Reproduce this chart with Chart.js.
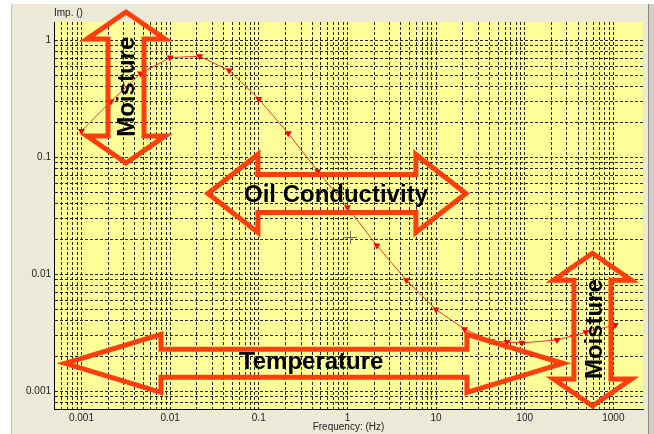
<!DOCTYPE html>
<html>
<head>
<meta charset="utf-8">
<script src="https://cdn.jsdelivr.net/npm/chart.js@4.4.1/dist/chart.umd.min.js"></script>
<style>
  html, body { margin: 0; padding: 0; background: #fff; }
  #wrap { width: 654px; height: 434px; }
</style>
</head>
<body>
<div id="wrap"><canvas id="chart" width="654" height="434"></canvas></div>
<script>
const freqHz = [0.001, 0.00215, 0.00464, 0.01, 0.0215, 0.0464, 0.1, 0.215, 0.464, 1, 2.15, 4.64, 10, 21, 42, 63, 93, 231, 490, 1050];
const impedance = [0.168, 0.30, 0.52, 0.71, 0.73, 0.55, 0.315, 0.16, 0.076, 0.0375, 0.0176, 0.0089, 0.0050, 0.0034, 0.0027, 0.00264, 0.0026, 0.00275, 0.0032, 0.0037];

const xTickLabels = ['0.001', '0.01', '0.1', '1', '10', '100', '1000'];
const yTickLabels = ['0.001', '0.01', '0.1', '1'];
const minorSteps = [1, 2, 3, 4, 5, 6, 7, 8, 9];

const xRange = [0.00049, 2160];
const yRange = [0.000708, 1.43];

// big annotation arrows, ends given in (Hz, impedance)
const arrows = [
  { text: 'Moisture', from: [0.00318, 1.74], to: [0.00318, 0.0894], shaftHalf: 18, headHalf: 39, headLen: 27, label: [0.0033, 0.40], vertical: true },
  { text: 'Oil Conductivity', from: [0.0267, 0.0491], to: [21.7, 0.0491], shaftHalf: 19, headHalf: 39, headLen: 50, label: [0.743, 0.0476], vertical: false },
  { text: 'Temperature', from: [0.000652, 0.00174], to: [270, 0.00174], shaftHalf: 14, headHalf: 29, headLen: 96, label: [0.395, 0.00178], vertical: false },
  { text: 'Moisture', from: [581, 0.01514], to: [581, 0.000751], shaftHalf: 18.5, headHalf: 39, headLen: 27, label: [628, 0.00341], vertical: true },
];
const cursorAt = [1.07, 0.021];

const tickFont = { family: "'Liberation Sans Narrow', 'Liberation Sans', Arial, sans-serif", size: 10 };
const arrowColor = '#ff3d0d';

// every 1..9 step per decade, capped at the last labelled decade
function gridTicks(labels, range) {
  const top = Number(labels[labels.length - 1]);
  const out = [];
  for (let e = -4; e <= 3; e++) {
    minorSteps.forEach(m => {
      const v = m * Math.pow(10, e);
      if (v >= range[0] && v <= top * 1.0001) out.push({ value: v });
    });
  }
  return out;
}

function labelFor(labels) {
  return function (value) {
    const hit = labels.find(l => Math.abs(Number(l) - value) < Number(l) * 1e-6);
    return hit || '';
  };
}

const backdrop = {
  id: 'backdrop',
  beforeDraw(chart) {
    const { ctx, chartArea: a } = chart;
    ctx.save();
    ctx.fillStyle = '#ffffff';
    ctx.fillRect(0, 0, 654, 434);
    ctx.fillStyle = '#ece9d8';
    ctx.fillRect(11, 4, 637, 430);
    ctx.fillStyle = '#d4d0c8';
    ctx.fillRect(648, 4, 6, 430);
    ctx.strokeStyle = '#8c8a80';
    ctx.lineWidth = 1;
    ctx.beginPath();
    ctx.moveTo(648.5, 4); ctx.lineTo(648.5, 434);
    ctx.stroke();
    ctx.strokeStyle = '#c8c5b8';
    ctx.beginPath();
    ctx.moveTo(11.5, 4); ctx.lineTo(11.5, 434);
    ctx.stroke();
    ctx.fillStyle = '#ffff99';
    ctx.fillRect(a.left, a.top, a.right - a.left, a.bottom - a.top);
    ctx.restore();
  }
};

const overlay = {
  id: 'overlay',
  afterDraw(chart) {
    const { ctx, chartArea: a } = chart;
    const sx = chart.scales.x, sy = chart.scales.y;
    ctx.save();

    // y axis caption
    ctx.fillStyle = '#222';
    ctx.font = "10px 'Liberation Sans Narrow', 'Liberation Sans', Arial";
    ctx.textAlign = 'left';
    ctx.textBaseline = 'middle';
    ctx.fillText('Imp. ()', a.left, 13);

    // cursor cross
    const cx = sx.getPixelForValue(cursorAt[0]), cy = sy.getPixelForValue(cursorAt[1]);
    ctx.strokeStyle = '#5c6b8a';
    ctx.lineWidth = 1;
    ctx.beginPath();
    ctx.moveTo(Math.round(cx) - 6, Math.round(cy) + 0.5); ctx.lineTo(Math.round(cx) + 7, Math.round(cy) + 0.5);
    ctx.moveTo(Math.round(cx) + 0.5, Math.round(cy) - 6); ctx.lineTo(Math.round(cx) + 0.5, Math.round(cy) + 7);
    ctx.stroke();

    arrows.forEach(ar => {
      const x1 = sx.getPixelForValue(ar.from[0]), y1 = sy.getPixelForValue(ar.from[1]);
      const x2 = sx.getPixelForValue(ar.to[0]), y2 = sy.getPixelForValue(ar.to[1]);
      const len = Math.hypot(x2 - x1, y2 - y1);
      const ux = (x2 - x1) / len, uy = (y2 - y1) / len;
      const nx = -uy, ny = ux;
      const P = (t, n) => [x1 + ux * t + nx * n, y1 + uy * t + ny * n];
      const h = ar.headLen, w = ar.headHalf, s = ar.shaftHalf;
      const pts = [P(0, 0), P(h, -w), P(h, -s), P(len - h, -s), P(len - h, -w), P(len, 0),
                   P(len - h, w), P(len - h, s), P(h, s), P(h, w)];
      ctx.beginPath();
      pts.forEach((p, i) => i ? ctx.lineTo(p[0], p[1]) : ctx.moveTo(p[0], p[1]));
      ctx.closePath();
      ctx.lineWidth = 5;
      ctx.lineJoin = 'miter';
      ctx.miterLimit = 10;
      ctx.strokeStyle = arrowColor;
      ctx.stroke();

      const tx = sx.getPixelForValue(ar.label[0]), ty = sy.getPixelForValue(ar.label[1]);
      ctx.save();
      ctx.translate(tx, ty);
      if (ar.vertical) ctx.rotate(-Math.PI / 2);
      ctx.fillStyle = '#000';
      ctx.font = "bold 24px 'Liberation Sans', Arial, sans-serif";
      ctx.textAlign = 'center';
      ctx.textBaseline = 'middle';
      ctx.fillText(ar.text, 0, 0);
      ctx.restore();
    });
    ctx.restore();
  }
};

new Chart(document.getElementById('chart'), {
  type: 'line',
  data: {
    datasets: [{
      label: 'Imp.',
      data: freqHz.map((f, i) => ({ x: f, y: impedance[i] })),
      borderColor: '#ff3030',
      borderWidth: 1,
      backgroundColor: '#ff0000',
      pointStyle: 'triangle',
      rotation: 180,
      pointRadius: 4,
      pointBorderWidth: 0,
      tension: 0,
      clip: false
    }]
  },
  options: {
    responsive: false,
    animation: false,
    events: [],
    layout: { padding: { top: 22, right: 11, bottom: 0, left: 0 } },
    plugins: { legend: { display: false }, tooltip: { enabled: false } },
    scales: {
      x: {
        type: 'logarithmic',
        min: xRange[0],
        max: xRange[1],
        bounds: 'data',
        afterBuildTicks: scale => { scale.ticks = gridTicks(xTickLabels, xRange); },
        afterFit: scale => { scale.height = 25; },
        ticks: { autoSkip: false, maxRotation: 0, padding: 3, color: '#222', font: tickFont, callback: labelFor(xTickLabels) },
        grid: { color: 'rgba(0,0,0,0.85)', lineWidth: 1, drawTicks: false },
        border: { display: true, color: '#000', width: 1, dash: [3, 2] },
        title: { display: true, text: 'Frequency: (Hz)', color: '#222', font: tickFont, padding: { top: 0, bottom: 1 } }
      },
      y: {
        type: 'logarithmic',
        min: yRange[0],
        max: yRange[1],
        bounds: 'data',
        afterBuildTicks: scale => { scale.ticks = gridTicks(yTickLabels, yRange); },
        afterFit: scale => { scale.width = 54; },
        ticks: { autoSkip: false, padding: 3, color: '#222', font: tickFont, callback: labelFor(yTickLabels) },
        grid: { color: 'rgba(0,0,0,0.85)', lineWidth: 1, drawTicks: false },
        border: { display: true, color: '#000', width: 1, dash: [3, 2] }
      }
    }
  },
  plugins: [backdrop, overlay]
});
</script>
</body>
</html>
